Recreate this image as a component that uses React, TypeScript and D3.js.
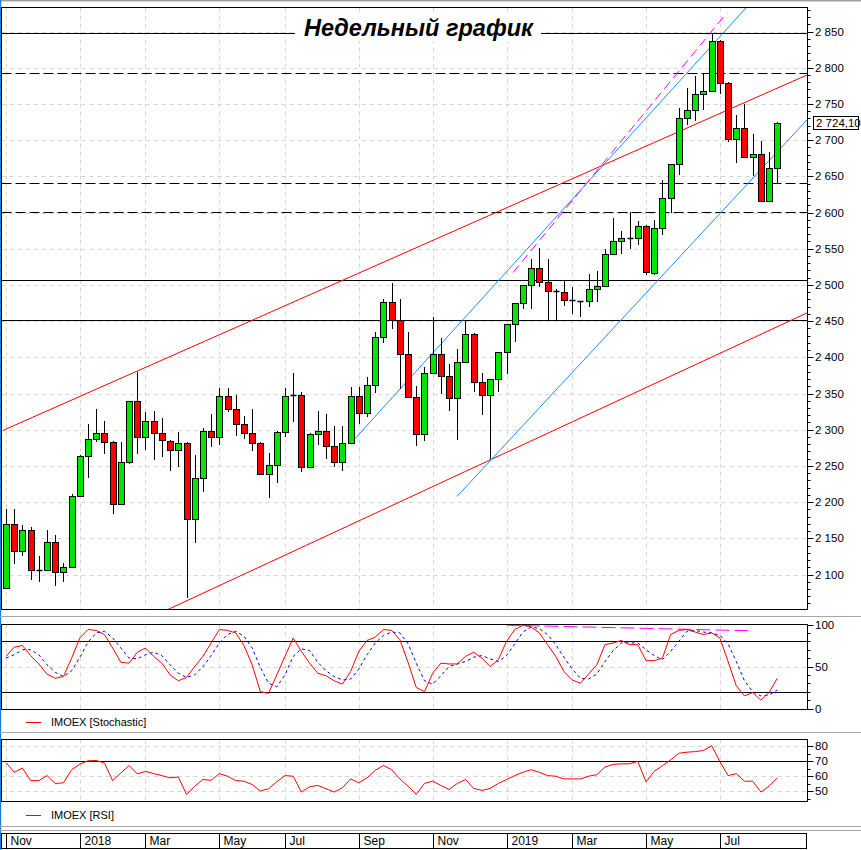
import React, { useEffect } from 'react';
import * as d3 from 'd3';

const W = 861;
const H = 850;
const START = new Date(2017, 9, 30); // Monday, first weekly bar
const TITLE = 'Недельный график';
const MONTHS = ['Jan', 'Feb', 'Mar', 'Apr', 'May', 'Jun', 'Jul', 'Aug', 'Sep', 'Oct', 'Nov', 'Dec'];

const opens = [2082,2170,2132,2162,2106,2106,2145,2103,2110,2208,2264,2287,2296,2283,2198,2256,2339,2290,2312,2296,2285,2272,2282,2177,2233,2298,2290,2347,2328,2308,2296,2282,2239,2251,2297,2348,2348,2249,2294,2298,2277,2256,2281,2347,2323,2362,2428,2477,2452,2405,2345,2294,2379,2405,2374,2344,2394,2432,2366,2348,2370,2408,2446,2475,2500,2524,2504,2491,2490,2479,2478,2478,2495,2499,2543,2561,2565,2565,2582,2517,2579,2620,2667,2731,2741,2763,2768,2837,2779,2702,2717,2677,2681,2616,2662];
const highs = [2191,2190,2168,2165,2126,2161,2155,2116,2211,2265,2308,2329,2312,2284,2283,2339,2380,2325,2326,2316,2286,2297,2283,2265,2303,2322,2358,2358,2348,2319,2329,2283,2268,2298,2358,2379,2352,2295,2326,2321,2305,2305,2359,2359,2373,2435,2480,2502,2480,2435,2361,2386,2455,2426,2391,2411,2452,2433,2379,2370,2408,2446,2475,2500,2536,2551,2536,2495,2507,2497,2478,2515,2519,2550,2592,2575,2601,2588,2583,2590,2645,2667,2745,2772,2789,2792,2848,2838,2780,2734,2750,2708,2699,2683,2725];
const lows = [2080,2114,2125,2093,2089,2105,2084,2089,2109,2207,2233,2283,2266,2183,2197,2253,2266,2272,2258,2262,2243,2248,2068,2144,2214,2276,2279,2325,2291,2287,2270,2237,2205,2227,2290,2310,2242,2248,2279,2260,2249,2243,2280,2308,2318,2351,2420,2439,2356,2344,2278,2285,2378,2350,2326,2286,2393,2352,2320,2260,2352,2377,2421,2467,2467,2497,2450,2452,2471,2460,2455,2469,2476,2498,2542,2543,2550,2555,2513,2513,2569,2600,2652,2721,2726,2742,2767,2763,2697,2668,2676,2650,2615,2615,2640];
const closes = [2170,2132,2162,2106,2106,2145,2103,2110,2209,2264,2287,2296,2283,2198,2256,2339,2290,2312,2296,2286,2272,2282,2176,2233,2298,2290,2347,2328,2308,2296,2282,2239,2251,2297,2347,2348,2249,2294,2298,2277,2256,2281,2347,2323,2362,2428,2477,2452,2405,2345,2294,2379,2405,2374,2344,2394,2432,2366,2348,2370,2408,2446,2475,2500,2524,2504,2492,2491,2479,2479,2478,2495,2499,2543,2561,2565,2565,2582,2518,2579,2620,2667,2731,2741,2763,2768,2837,2779,2702,2717,2677,2681,2616,2662,2724.1];

const stochK = [62,73,75,63,53,41,36,38,60,84,94,93,88,72,55,54,67,72,62,54,40,33,37,50,62,78,94,93,90,75,52,20,18,40,62,84,68,54,42,39,33,29,44,68,81,85,94,93,82,55,25,20,42,54,53,53,62,67,60,50,58,80,94,99,97,90,76,62,44,34,30,41,52,76,78,81,76,76,57,57,60,88,93,94,91,88,90,84,56,27,15,19,10,19,36];
const stochD = [60,64,70,70,64,52,43,38,45,61,79,90,92,84,72,60,59,64,67,63,52,42,37,40,50,63,78,88,92,86,72,49,30,26,40,62,71,69,55,45,38,34,35,47,64,78,87,91,90,77,54,33,29,39,50,53,56,61,63,59,56,63,77,91,97,95,88,76,61,47,36,35,41,56,69,78,78,78,70,63,58,68,80,92,93,91,90,87,77,56,33,20,15,16,22];
const rsiVals = [69,62.6,65.4,57.1,57.1,60.4,55.2,55.6,64.3,68,70.2,70.4,68.7,57.1,62.1,67.1,61.5,63.2,61.7,60.4,58.9,59.5,48,53.4,57.8,57.3,61.7,60,57.1,56.7,54.5,50.2,51.7,56.3,60.4,60,49.5,53,53.9,51.7,49.5,52.3,58.2,55.6,58.9,63.9,67.1,64.3,58.2,53.4,48,55.2,56.7,53.9,51.2,55.2,57.8,51.9,50.6,51.9,55.2,57.8,60.4,62.6,64.3,62.6,60.4,60,58.2,58.2,58.2,60,61,66.1,67.8,68.2,68.2,69.8,56.3,63.2,66.9,70.8,75.2,75.9,76.3,77,80.2,69.8,60.4,61.7,56.7,56.7,49.5,53.4,58.9];

const solidLevels = [2848, 2507, 2452];
const dashedLevels = [2792, 2641, 2601];
const stochLevels = [80, 20];
const rsiLevels = [70];
const lastPrice = 2724.1;

// trend lines: [fromIndex, fromValue, toIndex, toValue]
const redLines = [[-0.37, 2299, 97.75, 2790.6], [19.74, 2051.7, 97.75, 2462]];
const blueLines = [[41.96, 2280.5, 90.3, 2884], [54.97, 2207.8, 98, 2732.6]];
const magentaMain = [61.79, 2517, 87.87, 2876];
const magentaStoch = [61.0, 99.2, 90.9, 92.5];

const L = 1.5, R = 807.5;
const MT = 7.5, MB = 609.5;
const ST = 624.5, SB = 709.5;
const RT = 739.5, RB = 801.5;
const AT = 833.5, AB = 848.5;
const FONT = '"Liberation Sans", Arial, sans-serif';

export default function App() {
  useEffect(() => {
    document.body.style.margin = '0';
  }, []);

  const n = closes.length;
  const x = d3.scaleLinear().domain([0, 94]).range([6, 777.3]);
  const y = d3.scaleLinear().domain([2100, 2850]).range([574.5, 31.5]);
  const ys = d3.scaleLinear().domain([0, 100]).range([708.5, 624.5]);
  const yr = d3.scaleLinear().domain([50, 80]).range([791.3, 746]);

  const loc = d3.formatLocale({ decimal: ',', thousands: '\u00a0', grouping: [3], currency: ['', ''] });
  const f0 = loc.format(',.0f');
  const f2 = loc.format(',.2f');

  const dates = d3.range(n).map((i) => d3.timeDay.offset(START, i * 7));
  const ticks: { i: number; label: string }[] = [];
  dates.forEach((d, i) => {
    for (let k = 0; k < 7; k++) {
      const dd = d3.timeDay.offset(d, k);
      if (dd.getDate() === 1 && dd.getMonth() % 2 === 0) {
        ticks.push({ i, label: dd.getMonth() === 0 ? String(dd.getFullYear()) : MONTHS[dd.getMonth()] });
      }
    }
  });

  const px = (i: number) => Math.round(x(i)) + 0.5;

  const priceMajor = d3.range(2100, 2851, 50);
  const priceMinor = d3.range(2060, 2881, 10);

  const lineK = d3.line<number>().x((_, i) => x(i)).y((v) => ys(v));
  const lineR = d3.line<number>().x((_, i) => x(i)).y((v) => yr(v));

  const grid = '#d4d4d4';

  return (
    <svg width={W} height={H} style={{ position: 'absolute', left: 0, top: 0, display: 'block', background: '#fff' }} fontFamily={FONT}>
      <defs>
        <clipPath id="cm"><rect x={L} y={MT} width={R - L} height={MB - MT} /></clipPath>
        <clipPath id="cs"><rect x={L} y={ST} width={R - L} height={SB - ST} /></clipPath>
        <clipPath id="cr"><rect x={L} y={RT} width={R - L} height={RB - RT} /></clipPath>
      </defs>
      <rect x={0} y={0} width={W} height={H} fill="#fff" />
      <rect x={0} y={0} width={W} height={1.5} fill="#a0a0a0" />
      <rect x={0} y={0} width={1.2} height={H} fill="#1c7fe0" />

      {/* separators */}
      {[616.5, 732.5, 826.5, 830.5].map((yy) => (
        <line key={yy} x1={0} x2={W} y1={yy} y2={yy} stroke="#a8a8a8" strokeWidth={1} />
      ))}

      {/* ===== MAIN PANEL ===== */}
      <g clipPath="url(#cm)">
        {priceMajor.map((v) => (
          <line key={'g' + v} x1={L} x2={R} y1={Math.round(y(v)) + 0.5} y2={Math.round(y(v)) + 0.5} stroke={grid} strokeDasharray="4,4" />
        ))}
        {ticks.map((t) => (
          <line key={'v' + t.i} x1={px(t.i)} x2={px(t.i)} y1={MT} y2={MB} stroke={grid} strokeDasharray="4,4" />
        ))}
        {solidLevels.map((v) => (
          <line key={'s' + v} x1={L} x2={R} y1={Math.round(y(v)) + 0.5} y2={Math.round(y(v)) + 0.5} stroke="#000" strokeWidth={1} />
        ))}
        {dashedLevels.map((v) => (
          <line key={'d' + v} x1={L} x2={R} y1={Math.round(y(v)) + 0.5} y2={Math.round(y(v)) + 0.5} stroke="#000" strokeWidth={1} strokeDasharray="10,4" />
        ))}
        {redLines.map((l, k) => (
          <line key={'r' + k} x1={x(l[0])} y1={y(l[1])} x2={x(l[2])} y2={y(l[3])} stroke="#ff0000" strokeWidth={1} />
        ))}
        {blueLines.map((l, k) => (
          <line key={'b' + k} x1={x(l[0])} y1={y(l[1])} x2={x(l[2])} y2={y(l[3])} stroke="#1e8cff" strokeWidth={1} />
        ))}
        <line x1={x(magentaMain[0])} y1={y(magentaMain[1])} x2={x(magentaMain[2])} y2={y(magentaMain[3])} stroke="#ff00ff" strokeWidth={1} strokeDasharray="9,5" />

        {closes.map((c, i) => {
          const o = opens[i];
          const cx = px(i);
          const top = Math.round(y(Math.max(o, c))) + 0.5;
          const bot = Math.round(y(Math.min(o, c))) + 0.5;
          return (
            <g key={'c' + i}>
              <line x1={cx} x2={cx} y1={y(highs[i])} y2={y(lows[i])} stroke="#000" strokeWidth={1} shapeRendering="crispEdges" />
              {c === o ? (
                <line x1={cx - 3} x2={cx + 3} y1={top} y2={top} stroke="#000" strokeWidth={1.5} />
              ) : (
                <rect x={cx - 3} y={top} width={6} height={Math.max(1, bot - top)} fill={c > o ? '#00e600' : '#ff0000'} stroke="#000" strokeWidth={1} />
              )}
            </g>
          );
        })}
      </g>
      {/* title */}
      <rect x={295} y={14} width={246} height={27} fill="#fff" />
      <text x={418.5} y={36} textAnchor="middle" fontSize={23.5} fontWeight="bold" fontStyle="italic" fill="#000">{TITLE}</text>
      <rect x={L} y={MT} width={R - L} height={MB - MT} fill="none" stroke="#000" strokeWidth={1} />
      {/* price axis */}
      {priceMinor.map((v) => (
        <line key={'pm' + v} x1={R} x2={R + (v % 50 === 0 ? 6 : 3)} y1={Math.round(y(v)) + 0.5} y2={Math.round(y(v)) + 0.5} stroke="#000" />
      ))}
      {priceMajor.map((v) => (
        <text key={'pl' + v} x={815} y={y(v)} dy="0.35em" fontSize={11.5} fill="#000">{f0(v)}</text>
      ))}
      <rect x={813.5} y={Math.round(y(lastPrice)) - 6.5} width={45} height={13} fill="#fff" stroke="#000" />
      <text x={816} y={y(lastPrice)} dy="0.35em" fontSize={11.5} fill="#000">{f2(lastPrice)}</text>

      {/* ===== STOCHASTIC PANEL ===== */}
      <g clipPath="url(#cs)">
        <line x1={L} x2={R} y1={Math.round(ys(50)) + 0.5} y2={Math.round(ys(50)) + 0.5} stroke={grid} strokeDasharray="4,4" />
        {ticks.map((t) => (
          <line key={'sv' + t.i} x1={px(t.i)} x2={px(t.i)} y1={ST} y2={SB} stroke={grid} strokeDasharray="4,4" />
        ))}
        {stochLevels.map((v) => (
          <line key={'sl' + v} x1={L} x2={R} y1={Math.round(ys(v)) + 0.5} y2={Math.round(ys(v)) + 0.5} stroke="#000" />
        ))}
        <line x1={x(magentaStoch[0])} y1={ys(magentaStoch[1])} x2={x(magentaStoch[2])} y2={ys(magentaStoch[3])} stroke="#ff00ff" strokeWidth={1} strokeDasharray="14,5" />
        <path d={lineK(stochD) || ''} fill="none" stroke="#0000ff" strokeWidth={1} strokeDasharray="3,3" />
        <path d={lineK(stochK) || ''} fill="none" stroke="#ff0000" strokeWidth={1} />
      </g>
      <rect x={L} y={ST} width={R - L} height={SB - ST} fill="none" stroke="#000" />
      {d3.range(0, 101, 10).map((v) => (
        <line key={'st' + v} x1={R} x2={R + (v % 50 === 0 ? 6 : 3)} y1={Math.round(ys(v)) + 0.5} y2={Math.round(ys(v)) + 0.5} stroke="#000" />
      ))}
      {[0, 50, 100].map((v) => (
        <text key={'stl' + v} x={815} y={ys(v)} dy="0.35em" fontSize={11.5} fill="#000">{v}</text>
      ))}
      <line x1={26} x2={41} y1={722.5} y2={722.5} stroke="#ff0000" />
      <text x={51} y={722.5} dy="0.35em" fontSize={11} fill="#000">IMOEX [Stochastic]</text>

      {/* ===== RSI PANEL ===== */}
      <g clipPath="url(#cr)">
        {[80, 60, 50].map((v) => (
          <line key={'rg' + v} x1={L} x2={R} y1={Math.round(yr(v)) + 0.5} y2={Math.round(yr(v)) + 0.5} stroke={grid} strokeDasharray="4,4" />
        ))}
        {ticks.map((t) => (
          <line key={'rv' + t.i} x1={px(t.i)} x2={px(t.i)} y1={RT} y2={RB} stroke={grid} strokeDasharray="4,4" />
        ))}
        {rsiLevels.map((v) => (
          <line key={'rl' + v} x1={L} x2={R} y1={Math.round(yr(v)) + 0.5} y2={Math.round(yr(v)) + 0.5} stroke="#000" />
        ))}
        <path d={lineR(rsiVals) || ''} fill="none" stroke="#ff0000" strokeWidth={1} />
      </g>
      <rect x={L} y={RT} width={R - L} height={RB - RT} fill="none" stroke="#000" />
      {d3.range(45, 81, 5).map((v) => (
        <line key={'rt' + v} x1={R} x2={R + (v % 10 === 0 ? 6 : 3)} y1={Math.round(yr(v)) + 0.5} y2={Math.round(yr(v)) + 0.5} stroke="#000" />
      ))}
      {[50, 60, 70, 80].map((v) => (
        <text key={'rtl' + v} x={815} y={yr(v)} dy="0.35em" fontSize={11.5} fill="#000">{v}</text>
      ))}
      <line x1={26} x2={41} y1={815.5} y2={815.5} stroke="#ff0000" />
      <text x={51} y={815.5} dy="0.35em" fontSize={11} fill="#000">IMOEX [RSI]</text>

      {/* ===== TIME AXIS ===== */}
      <rect x={L} y={AT} width={R - L - 1} height={AB - AT} fill="none" stroke="#000" />
      {ticks.map((t) => (
        <g key={'ta' + t.i}>
          <line x1={px(t.i)} x2={px(t.i)} y1={AT} y2={AB} stroke="#000" />
          <text x={px(t.i) + 4} y={845} fontSize={12} fill="#000">{t.label}</text>
        </g>
      ))}
    </svg>
  );
}
